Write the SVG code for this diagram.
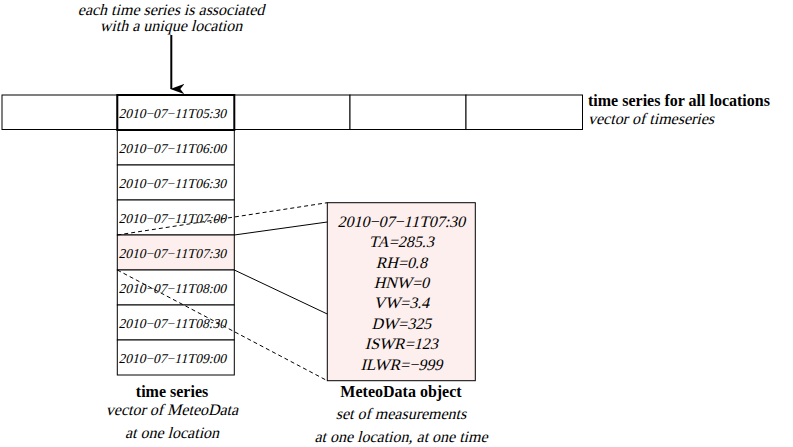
<svg xmlns="http://www.w3.org/2000/svg" width="793" height="447" viewBox="0 0 793 447">
<style>
.box{fill:#ffffff;stroke:#000;stroke-width:1}
.pink{fill:#fdefee;stroke:#000;stroke-width:1}
.dt{font-family:"Liberation Serif","Times New Roman",serif;font-size:13.5px;fill:#000}
.md{font-family:"Liberation Serif","Times New Roman",serif;font-size:16px;fill:#000;text-anchor:middle}
.bt{font-family:"Liberation Serif","Times New Roman",serif;font-weight:bold;font-size:16px;fill:#000}
.it{font-family:"Liberation Serif","Times New Roman",serif;font-size:16px;fill:#000}
.c{text-anchor:middle}
.dash{fill:none;stroke:#000;stroke-width:1;stroke-dasharray:4 3}
.solid{fill:none;stroke:#000;stroke-width:1}
</style>
<defs>
<marker id="ah" markerWidth="10" markerHeight="14" refX="5" refY="13" orient="auto" markerUnits="userSpaceOnUse" viewBox="0 0 10 14">
<path d="M0,0 L5,14 L10,0 L5,4 Z" fill="#000"/>
</marker>
</defs>
<rect width="793" height="447" fill="#fff"/>

<g id="caption-top">
<text class="it c" transform="translate(171,15) skewX(-14)">each time series is associated</text>
<text class="it c" transform="translate(171,31) skewX(-14)">with a unique location</text>
</g>

<g id="locations">
<rect class="box" x="2" y="95" width="115.3" height="34.5"/>
<rect class="box" x="234.3" y="95" width="115.7" height="34.5"/>
<rect class="box" x="350" y="95" width="116" height="34.5"/>
<rect class="box" x="466" y="95" width="116.5" height="34.5"/>
<text class="bt" x="588" y="106">time series for all locations</text>
<text class="it" transform="translate(588,124) skewX(-14)">vector of timeseries</text>
</g>

<g id="timeseries">
<rect class="box" x="117.3" y="130" width="117" height="35"/>
<rect class="box" x="117.3" y="165" width="117" height="35"/>
<rect class="box" x="117.3" y="200" width="117" height="35"/>
<rect class="pink" x="117.3" y="235" width="117" height="35"/>
<rect class="box" x="117.3" y="270" width="117" height="35"/>
<rect class="box" x="117.3" y="305" width="117" height="35"/>
<rect class="box" x="117.3" y="340" width="117" height="35"/>
<rect x="117.3" y="95" width="117" height="35" fill="#fff" stroke="#000" stroke-width="2"/>
<text class="dt" transform="translate(118.5,117.5) skewX(-14)">2010−07−11T05:30</text>
<text class="dt" transform="translate(118.5,152.5) skewX(-14)">2010−07−11T06:00</text>
<text class="dt" transform="translate(118.5,187.5) skewX(-14)">2010−07−11T06:30</text>
<text class="dt" transform="translate(118.5,222.5) skewX(-14)">2010−07−11T07:00</text>
<text class="dt" transform="translate(118.5,257.5) skewX(-14)">2010−07−11T07:30</text>
<text class="dt" transform="translate(118.5,292.5) skewX(-14)">2010−07−11T08:00</text>
<text class="dt" transform="translate(118.5,327.5) skewX(-14)">2010−07−11T08:30</text>
<text class="dt" transform="translate(118.5,362.5) skewX(-14)">2010−07−11T09:00</text>
<text class="bt c" x="172" y="397">time series</text>
<text class="it c" transform="translate(172,415) skewX(-14)">vector of MeteoData</text>
<text class="it c" transform="translate(172,438) skewX(-14)">at one location</text>
</g>

<g id="meteodata">
<rect class="pink" x="327.3" y="202.7" width="148" height="178"/>
<text class="md" transform="translate(401.3,226.5) skewX(-14)">2010−07−11T07:30</text>
<text class="md" transform="translate(401.3,247) skewX(-14)">TA=285.3</text>
<text class="md" transform="translate(401.3,267.5) skewX(-14)">RH=0.8</text>
<text class="md" transform="translate(401.3,288) skewX(-14)">HNW=0</text>
<text class="md" transform="translate(401.3,308) skewX(-14)">VW=3.4</text>
<text class="md" transform="translate(401.3,328.5) skewX(-14)">DW=325</text>
<text class="md" transform="translate(401.3,349) skewX(-14)">ISWR=123</text>
<text class="md" transform="translate(401.3,369.5) skewX(-14)">ILWR=−999</text>
<text class="bt c" x="401" y="397">MeteoData object</text>
<text class="it c" transform="translate(401,419) skewX(-14)">set of measurements</text>
<text class="it c" transform="translate(401,442) skewX(-14)">at one location, at one time</text>
</g>

<g id="connectors">
<line x1="171.3" y1="35" x2="171.3" y2="89" stroke="#000" stroke-width="2" marker-end="url(#ah)"/>
<line class="dash" x1="117.3" y1="235" x2="327.3" y2="202.7"/>
<line class="solid" x1="234.3" y1="235" x2="327.3" y2="222"/>
<line class="solid" x1="234.3" y1="270" x2="327.3" y2="314"/>
<line class="dash" x1="117.3" y1="270" x2="327.3" y2="380.7"/>
</g>
</svg>
